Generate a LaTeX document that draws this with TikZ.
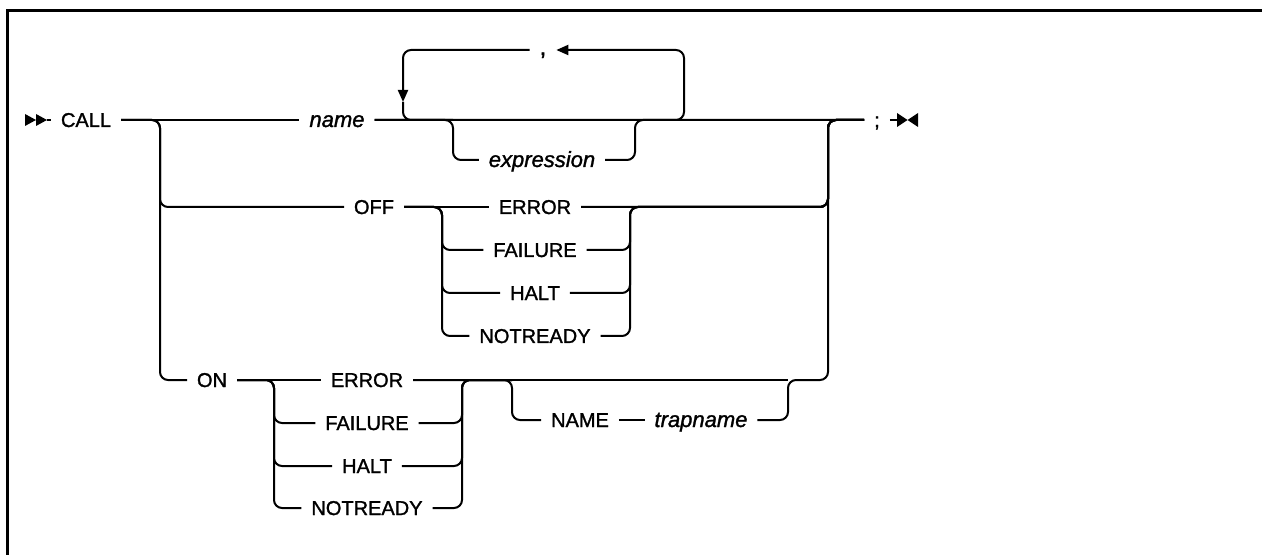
\documentclass[tikz,border=0pt]{standalone}
\usepackage{fontspec}
\setmainfont{Liberation Sans}[FakeBold=1.4]
\usetikzlibrary{arrows.meta}

\tikzset{
  rr/.style={rounded corners=4pt},
  kw/.style={inner xsep=4.5pt,inner ysep=0pt,text height=7pt,text depth=0pt},
  var/.style={kw,font=\fontsize{11}{13}\selectfont\itshape},
  tip/.style={-{Triangle[length=6pt,width=5pt]}}
}

\begin{document}
\begin{tikzpicture}[x=0.5pt,y=-0.5pt,line width=1pt]
\useasboundingbox (0,0) rectangle (1262,555);
% frame
\draw[line width=1.5pt] (7.5,565) -- (7.5,10.5) -- (1275,10.5);

% keywords and variables
\node[kw] (call) at (86,120) {CALL};
\node[var] (name) at (337,120) {name};
\node[kw,font=\large] (comma) at (543,48) {,};
\node[var] (expr) at (542,160) {expression};
\node[kw] (semi) at (877,120) {;};
\node[kw] (off) at (374,207) {OFF};
\node[kw] (offerr) at (535,207) {ERROR};
\node[kw] (offfail) at (535,250) {FAILURE};
\node[kw] (offhalt) at (535,293) {HALT};
\node[kw] (offnot) at (535,336) {NOTREADY};
\node[kw] (on) at (212,380) {ON};
\node[kw] (onerr) at (367,380) {ERROR};
\node[kw] (onfail) at (367,423) {FAILURE};
\node[kw] (onhalt) at (367,466) {HALT};
\node[kw] (onnot) at (367,508) {NOTREADY};
\node[kw] (nm) at (580,420) {NAME};
\node[var] (trap) at (701,420) {trapname};

% junctions
\coordinate (start) at (47,120);
\coordinate (stop) at (897,120);
\coordinate (c1) at (160,120);
\coordinate (c2) at (828,120);
\coordinate (lpTR) at (684,50);
\coordinate (lpL) at (403,102);
\coordinate (exprL) at (453,120);
\coordinate (exprR) at (635,120);
\coordinate (offL) at (442,207);
\coordinate (offR) at (630,207);
\coordinate (onL) at (274,380);
\coordinate (onR) at (462,380);
\coordinate (nmL) at (512,380);
\coordinate (nmR) at (788,380);

% begin and end marks
\fill (25,114) -- (36,120) -- (25,126) -- cycle;
\fill (36,114) -- (47,120) -- (36,126) -- cycle;
\fill (897,113) -- (907.5,120) -- (897,127) -- cycle;
\fill (918,113) -- (907.5,120) -- (918,127) -- cycle;

% main line
\draw (start) -- (call.west);
\draw (call) -- (name);
\draw (name) -- (semi);
\draw (semi.east) -- (stop);

% repeat loop and expression
\draw[rr,tip] (name.east) -| (lpTR) -- (comma.east |- lpTR);
\draw[rr,tip] (comma.west |- lpTR) -| (lpL);
\draw[rr] (lpL) |- (exprL);
\draw[rr] (name.east) -- (exprL) |- (expr.west);
\draw[rr] (expr.east) -| (exprR) -- (semi.west);

% OFF branch
\draw[rr] (call.east) -- (c1) |- (off.west);
\draw (off) -- (offerr);
\draw[rr] (offerr.east) -| (c2) -- (semi.west);
\foreach \r in {offfail,offhalt,offnot} {
  \draw[rr] (off.east) -- (offL) |- (\r.west);
  \draw[rr] (\r.east) -| (offR) -| (c2) -- (semi.west);
}

% ON branch
\draw[rr] (call.east) -- (c1) |- (on.west);
\draw (on) -- (onerr);
\foreach \r in {onfail,onhalt,onnot} {
  \draw[rr] (on.east) -- (onL) |- (\r.west);
  \draw[rr] (\r.east) -| (onR) -- (nmL);
}
\draw (onerr.east) -- (nmR);
\draw[rr] (onerr.east) -- (nmL) |- (nm.west);
\draw (nm) -- (trap);
\draw[rr] (trap.east) -| (nmR) -| (c2) -- (semi.west);
\end{tikzpicture}
\end{document}
